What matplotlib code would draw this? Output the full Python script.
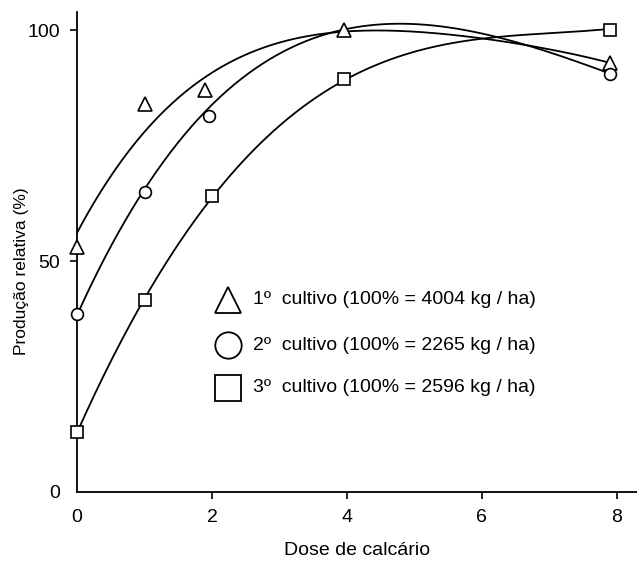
import numpy as np
import matplotlib.pyplot as plt

plt.rcParams['font.family'] = ['Liberation Sans', 'DejaVu Sans']

# Observed points: dose de calcário vs produção relativa (%)
dose_tri = [0, 1.0, 1.9, 3.95, 7.9]
prod_tri = [53, 84, 87, 100, 93]
dose_circ = [0, 1.0, 1.95, 7.9]
prod_circ = [38.5, 65, 81.5, 90.5]
dose_sq = [0, 1.0, 2.0, 3.95, 7.9]
prod_sq = [13, 41.5, 64, 89.5, 100]

# Fitted response curves at whole doses
curve_dose = [0, 1, 2, 3, 4, 5, 6, 7, 7.9]
curve_tri = [56, 78.5, 90.5, 97, 100, 100, 98, 95.8, 93]
curve_circ = [38.5, 65, 84.5, 94.8, 100.3, 101.2, 99.2, 95.5, 90.5]
curve_sq = [13, 41.5, 64, 79.5, 89.5, 95, 98.2, 99.6, 100.2]

labels = ['1º  cultivo (100% = 4004 kg / ha)',
          '2º  cultivo (100% = 2265 kg / ha)',
          '3º  cultivo (100% = 2596 kg / ha)']

fig = plt.figure(figsize=(6.37, 5.61), dpi=100)
ax = fig.add_axes([0.121, 0.123, 0.879, 0.856])

series = [
    (dose_tri, prod_tri, curve_tri, '^', 10),
    (dose_circ, prod_circ, curve_circ, 'o', 8.5),
    (dose_sq, prod_sq, curve_sq, 's', 8),
]
xs = np.linspace(0, max(curve_dose), 300)
for x, y, cy, m, ms in series:
    coef = np.polyfit(curve_dose, cy, 4)
    ax.plot(xs, np.polyval(coef, xs), color='black', lw=1.3, zorder=2)
    ax.plot(x, y, linestyle='none', marker=m, ms=ms, mfc='white',
            mec='black', mew=1.2, zorder=3, clip_on=False)

# legend drawn by hand
leg_y = [0.40, 0.306, 0.217]
for (_, _, _, m, _), lab, ly in zip(series, labels, leg_y):
    ax.plot([0.27], [ly], transform=ax.transAxes, marker=m, ms=19,
            mfc='white', mec='black', mew=1.3, linestyle='none')
    ax.text(0.314, ly, lab, transform=ax.transAxes, fontsize=14,
            va='center', ha='left')

ax.set_xlim(0, 8.3)
ax.set_ylim(0, 104)
ax.set_xticks([0, 2, 4, 6, 8])
ax.set_yticks([0, 50, 100])
ax.spines['top'].set_visible(False)
ax.spines['right'].set_visible(False)
for s in ['left', 'bottom']:
    ax.spines[s].set_linewidth(1.3)
ax.tick_params(labelsize=14, length=5, width=1.2, pad=7)
ax.xaxis.get_major_ticks()[0].tick1line.set_visible(False)
ax.yaxis.get_major_ticks()[0].tick1line.set_visible(False)
ax.set_xlabel('Dose de calcário', fontsize=14, labelpad=12)
ax.set_ylabel('Produção relativa (%)', fontsize=12.5)
ax.yaxis.set_label_coords(-0.085, 0.46)

fig.savefig('out.png', dpi=100)
